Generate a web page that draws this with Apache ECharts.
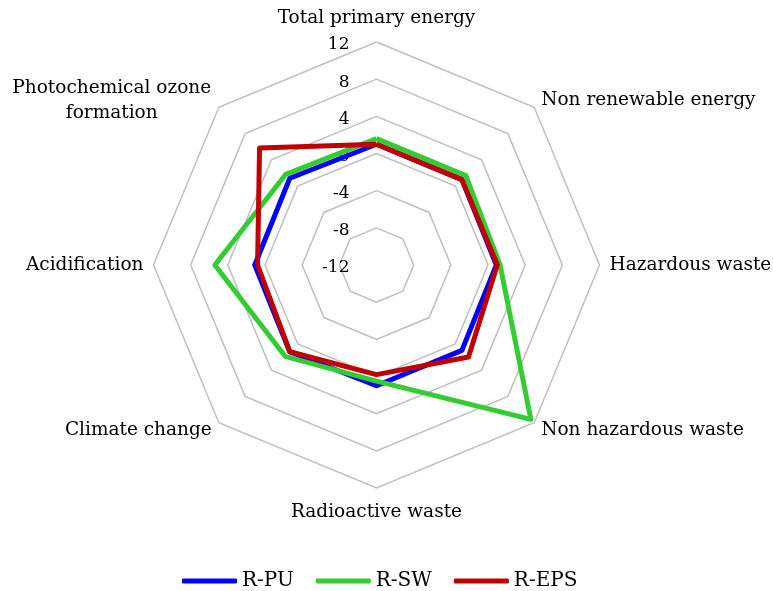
<!DOCTYPE html>
<html>
<head>
<meta charset="utf-8">
<script src="https://cdn.jsdelivr.net/npm/echarts@6/dist/echarts.min.js"></script>
<style>html,body{margin:0;padding:0;background:#fff}#c{width:773px;height:591px}</style>
</head>
<body>
<div id="c"></div>
<script>
// Indicators in clockwise order as seen in the chart (starting at top)
const categories = ['Total primary energy', 'Non renewable energy', 'Hazardous waste', 'Non hazardous waste', 'Radioactive waste', 'Climate change', 'Acidification', 'Photochemical ozone\nformation'];
const seriesNames = ['R-PU', 'R-SW', 'R-EPS'];
const valuesPU  = [1.0, 1.0, 0.9, 1.0, 1.0, 1.2, 1.1, 1.2];
const valuesSW  = [1.6, 1.6, 1.3, 11.5, 0.5, 1.9, 5.4, 1.8];
const valuesEPS = [1.0, 1.0, 1.0, 2.0, -0.2, 1.2, 0.8, 5.8];
const tickLabels = ['-12', '-8', '-4', '0', '4', '8', '12'];
const axisMin = -12, axisMax = 12;

const colors = ['#0000FF', '#33CC33', '#C00000'];
const FONT = 'DejaVu Serif';

// ECharts places indicators counter-clockwise, so reorder
const order = [0, 7, 6, 5, 4, 3, 2, 1];
const reorder = arr => order.map(i => arr[i]);

const indicator = reorder(categories).map((name, i) => {
  const o = { name: name, min: axisMin, max: axisMax };
  if (i === 0) {
    o.axisLabel = { show: true, showMinLabel: true, showMaxLabel: true, margin: 27, color: '#000', fontFamily: FONT, fontSize: 17,
      formatter: v => '{t|' + (tickLabels[tickLabels.indexOf(String(v))] ?? String(v)) + '}',
      rich: { t: { fontFamily: FONT, fontSize: 17, color: '#000', padding: [6, 0, 0, 0] } } };
  }
  return o;
});

const allValues = [valuesPU, valuesSW, valuesEPS];

function nameFormatter(name) {
  if (name === categories[0]) return '{top|' + name + '}';
  if (name === categories[4]) return '{bot|' + name + '}';
  if (name.indexOf('\n') >= 0) return name.split('\n').map(s => '{multi|' + s + '}').join('\n');
  return '{n|' + name + '}';
}

const nameRich = {
  n: { fontFamily: FONT, fontSize: 18.5, color: '#000' },
  top: { fontFamily: FONT, fontSize: 18.5, color: '#000', padding: [0, 0, 28, 0] },
  bot: { fontFamily: FONT, fontSize: 18.5, color: '#000', padding: [28, 0, 0, 0] },
  multi: { fontFamily: FONT, fontSize: 18.5, color: '#000', lineHeight: 25, width: 200, align: 'center' }
};

const chart = echarts.init(document.getElementById('c'), null, { renderer: 'canvas' });
chart.setOption({
  animation: false,
  backgroundColor: '#fff',
  color: colors,
  legend: {
    top: 566,
    left: 177,
    data: seriesNames,
    icon: 'roundRect',
    itemWidth: 55,
    itemHeight: 5,
    itemGap: 22,
    textStyle: { fontFamily: FONT, fontSize: 20, color: '#000' }
  },
  radar: {
    center: [376.5, 265],
    radius: 223,
    shape: 'polygon',
    splitNumber: 6,
    startAngle: 90,
    indicator: indicator,
    nameGap: 10,
    axisName: { color: '#000', fontFamily: FONT, fontSize: 18.5, verticalAlign: 'middle', formatter: nameFormatter, rich: nameRich },
    axisLine: { show: false },
    axisTick: { show: false },
    axisLabel: { show: false },
    splitLine: { lineStyle: { color: '#BFBFBF', width: 1.5 } },
    splitArea: { show: false }
  },
  series: [{
    type: 'radar',
    symbol: 'none',
    data: allValues.map((vals, k) => ({
      name: seriesNames[k],
      value: reorder(vals),
      lineStyle: { color: colors[k], width: 5 },
      itemStyle: { color: colors[k] }
    }))
  }]
});
</script>
</body>
</html>
